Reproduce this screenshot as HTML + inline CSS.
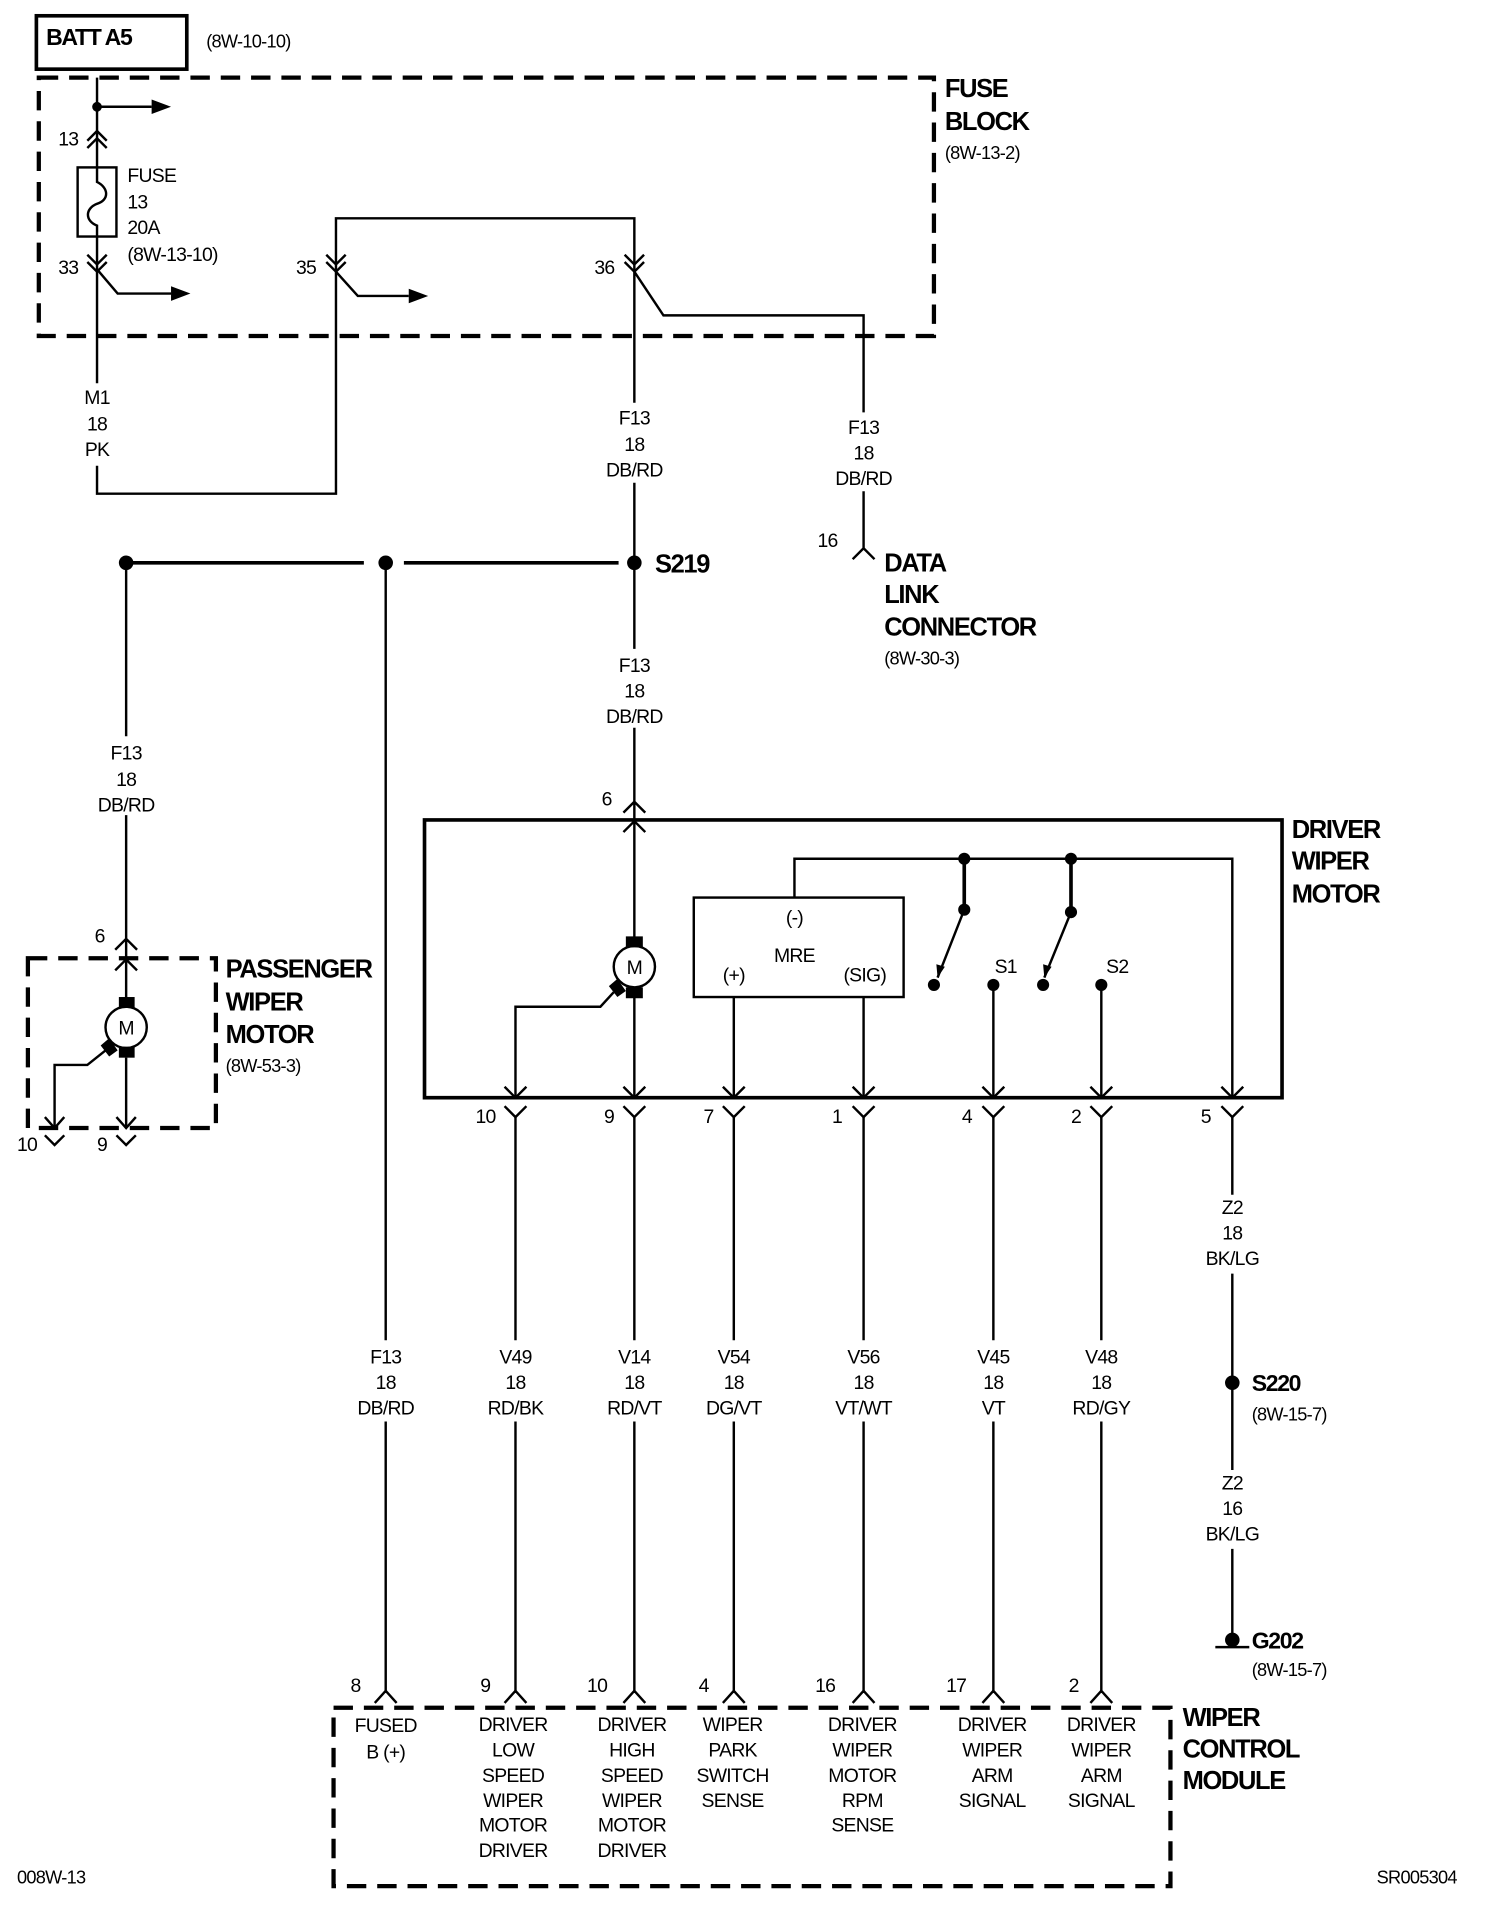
<!DOCTYPE html>
<html><head><meta charset="utf-8"><style>
html,body{margin:0;padding:0;background:#fff;}
svg{display:block;}
text{font-family:"Liberation Sans",sans-serif;fill:#000;}
.l{font-size:16px;text-anchor:middle;letter-spacing:-0.6px;}
.s{font-size:16px;letter-spacing:-0.6px;}
.b{font-size:21px;font-weight:bold;letter-spacing:-1.1px;}
.w{stroke:#000;stroke-width:2;fill:none;}
.t{stroke:#000;stroke-width:3;fill:none;}
.d{stroke:#000;stroke-width:3.5;fill:none;stroke-dasharray:16,9;}
</style></head><body>
<svg width="1504" height="1906" viewBox="0 0 1240 1571.4" xmlns="http://www.w3.org/2000/svg">
<rect x="30" y="13" width="124" height="44" class="t"/>
<text x="38" y="37" class="b" style="font-size:19px">BATT A5</text>
<text x="170" y="39" class="s" style="font-size:15px">(8W-10-10)</text>
<rect x="32" y="64" width="738" height="213" class="d"/>
<text x="779" y="80" class="b">FUSE</text>
<text x="779" y="107" class="b">BLOCK</text>
<text x="779" y="131" class="s" style="font-size:15px">(8W-13-2)</text>
<path class="w" d="M80 64 V138"/>
<circle cx="80" cy="88" r="4"/>
<path class="w" d="M80 88 H125"/><path d="M125 82 L141 88 L125 94Z"/>
<path class="w" d="M72 116 L80 108 L88 116 M72 122 L80 114 L88 122"/>
<text x="48" y="120" class="s">13</text>
<rect x="64" y="138" width="32" height="57" class="w"/>
<path class="w" d="M80 138 V150 C90 155 90 165 80 168 C70 172 70 182 80 186 V195"/>
<text x="105" y="150" class="s">FUSE</text>
<text x="105" y="172" class="s">13</text>
<text x="105" y="193" class="s">20A</text>
<text x="105" y="215" class="s">(8W-13-10)</text>
<path class="w" d="M80 195 V316 M80 384 V407 H277 V180 H523 V224"/>
<path class="w" d="M72 210 L80 218 L88 210 M72 216 L80 224 L88 216"/>
<text x="48" y="226" class="s">33</text>
<path class="w" d="M80 222 L97 242 H141"/><path d="M141 236 L157 242 L141 248Z"/>
<path class="w" d="M269 210 L277 218 L285 210 M269 216 L277 224 L285 216"/>
<text x="244" y="226" class="s">35</text>
<path class="w" d="M277 224 L295 244 H337"/><path d="M337 238 L353 244 L337 250Z"/>
<path class="w" d="M515 210 L523 218 L531 210 M515 216 L523 224 L531 216"/>
<text x="490" y="226" class="s">36</text>
<path class="w" d="M523 224 L547 260 H712 V340 M712 405 V452 M703 461 L712 452 L721 461"/>
<text x="80" y="333" class="l">M1</text><text x="80" y="355" class="l">18</text><text x="80" y="376" class="l">PK</text>
<path class="w" d="M523 224 V332 M523 398 V464"/>
<text x="523" y="350" class="l">F13</text><text x="523" y="372" class="l">18</text><text x="523" y="393" class="l">DB/RD</text>
<text x="712" y="358" class="l">F13</text><text x="712" y="379" class="l">18</text><text x="712" y="400" class="l">DB/RD</text>
<text x="674" y="451" class="s">16</text>
<text x="729" y="471" class="b">DATA</text><text x="729" y="497" class="b">LINK</text><text x="729" y="524" class="b">CONNECTOR</text>
<text x="729" y="548" class="s" style="font-size:15px">(8W-30-3)</text>
<path class="t" d="M104 464 H300 M333 464 H510"/>
<circle cx="104" cy="464" r="6"/><circle cx="318" cy="464" r="6"/><circle cx="523" cy="464" r="6"/>
<text x="540" y="472" class="b">S219</text>
<path class="w" d="M523 464 V535 M523 600 V676 M514 670 L523 661 L532 670 M514 686 L523 677 L532 686"/>
<text x="523" y="554" class="l">F13</text><text x="523" y="575" class="l">18</text><text x="523" y="596" class="l">DB/RD</text>
<text x="496" y="664" class="s">6</text>
<path class="w" d="M104 464 V607 M104 672 V830 M95 783 L104 774 L113 783 M95 800 L104 791 L113 800"/>
<text x="104" y="626" class="l">F13</text><text x="104" y="648" class="l">18</text><text x="104" y="669" class="l">DB/RD</text>
<text x="78" y="777" class="s">6</text>
<rect x="23" y="790" width="155" height="140" class="d"/>
<circle cx="104" cy="847" r="17" class="w"/><text x="104" y="853" class="l">M</text>
<rect x="98" y="822" width="13" height="9"/><rect x="98" y="863" width="13" height="9"/>
<path d="M83 862 L90 856 L97 866 L90 871Z"/>
<path class="w" d="M104 872 V930 M96 921 L104 930 L112 921 M87 866 L72 878 H45 V930 M37 921 L45 930 L53 921"/>
<path class="w" d="M37 936 L45 944 L53 936 M96 936 L104 944 L112 936"/>
<text x="14" y="949" class="s">10</text><text x="80" y="949" class="s">9</text>
<text x="186" y="806" class="b">PASSENGER</text><text x="186" y="833" class="b">WIPER</text><text x="186" y="860" class="b">MOTOR</text>
<text x="186" y="884" class="s" style="font-size:15px">(8W-53-3)</text>
<rect x="350" y="676" width="707" height="229" class="t"/>
<text x="1065" y="691" class="b">DRIVER</text><text x="1065" y="717" class="b">WIPER</text><text x="1065" y="744" class="b">MOTOR</text>
<path class="w" d="M523 676 V780 M523 814 V905"/>
<circle cx="523" cy="797" r="17" class="w" style="fill:#fff"/><text x="523" y="803" class="l">M</text>
<rect x="516" y="772" width="14" height="9"/><rect x="516" y="814" width="14" height="9"/>
<path d="M502 813 L509 807 L516 817 L509 822Z"/>
<path class="w" d="M506 818 L495 830 H425 V905"/>
<rect x="572" y="740" width="173" height="82" class="w"/>
<text x="655" y="762" class="l">(-)</text><text x="655" y="793" class="l">MRE</text>
<text x="605" y="809" class="l">(+)</text><text x="713" y="809" class="l">(SIG)</text>
<path class="w" d="M655 740 V708 H1016 V905"/>
<circle cx="795" cy="708" r="5"/><circle cx="883" cy="708" r="5"/>
<path class="t" d="M795 708 V750 M883 708 V752"/>
<circle cx="795" cy="750" r="5"/><circle cx="883" cy="752" r="5"/>
<path class="w" d="M795 750 L773 806 M883 752 L861 806"/>
<path d="M773 806 L772 795 L779 797Z M861 806 L860 795 L867 797Z"/>
<circle cx="770" cy="812" r="5"/><circle cx="860" cy="812" r="5"/>
<circle cx="819" cy="812" r="5"/><circle cx="908" cy="812" r="5"/>
<text x="820" y="802" class="s">S1</text><text x="912" y="802" class="s">S2</text>
<path class="w" d="M605 822 V905 M712 822 V905 M819 812 V905 M908 812 V905"/>
<path class="w" d="M416 896 L425 905 L434 896 M514 896 L523 905 L532 896 M596 896 L605 905 L614 896 M703 896 L712 905 L721 896 M810 896 L819 905 L828 896 M899 896 L908 905 L917 896 M1007 896 L1016 905 L1025 896"/>
<path class="w" d="M416 912 L425 921 L434 912 M514 912 L523 921 L532 912 M596 912 L605 921 L614 912 M703 912 L712 921 L721 912 M810 912 L819 921 L828 912 M899 912 L908 921 L917 912 M1007 912 L1016 921 L1025 912"/>
<text x="392" y="926" class="s">10</text><text x="498" y="926" class="s">9</text><text x="580" y="926" class="s">7</text>
<text x="686" y="926" class="s">1</text><text x="793" y="926" class="s">4</text><text x="883" y="926" class="s">2</text><text x="990" y="926" class="s">5</text>
<path class="w" d="M318 464 V1105 M318 1172 V1394 M425 921 V1105 M425 1172 V1394 M523 921 V1105 M523 1172 V1394 M605 921 V1105 M605 1172 V1394 M712 921 V1105 M712 1172 V1394 M819 921 V1105 M819 1172 V1394 M908 921 V1105 M908 1172 V1394"/>
<text x="318" y="1124" class="l">F13</text><text x="318" y="1145" class="l">18</text><text x="318" y="1166" class="l">DB/RD</text>
<text x="425" y="1124" class="l">V49</text><text x="425" y="1145" class="l">18</text><text x="425" y="1166" class="l">RD/BK</text>
<text x="523" y="1124" class="l">V14</text><text x="523" y="1145" class="l">18</text><text x="523" y="1166" class="l">RD/VT</text>
<text x="605" y="1124" class="l">V54</text><text x="605" y="1145" class="l">18</text><text x="605" y="1166" class="l">DG/VT</text>
<text x="712" y="1124" class="l">V56</text><text x="712" y="1145" class="l">18</text><text x="712" y="1166" class="l">VT/WT</text>
<text x="819" y="1124" class="l">V45</text><text x="819" y="1145" class="l">18</text><text x="819" y="1166" class="l">VT</text>
<text x="908" y="1124" class="l">V48</text><text x="908" y="1145" class="l">18</text><text x="908" y="1166" class="l">RD/GY</text>
<path class="w" d="M1016 921 V985 M1016 1050 V1212 M1016 1277 V1350"/>
<text x="1016" y="1001" class="l">Z2</text><text x="1016" y="1022" class="l">18</text><text x="1016" y="1043" class="l">BK/LG</text>
<circle cx="1016" cy="1140" r="6"/>
<text x="1032" y="1147" class="b" style="font-size:19px">S220</text>
<text x="1032" y="1171" class="s" style="font-size:15px">(8W-15-7)</text>
<text x="1016" y="1228" class="l">Z2</text><text x="1016" y="1249" class="l">16</text><text x="1016" y="1270" class="l">BK/LG</text>
<circle cx="1016" cy="1352" r="6"/>
<path class="w" d="M1002 1358 H1030"/>
<text x="1032" y="1359" class="b" style="font-size:19px">G202</text>
<text x="1032" y="1382" class="s" style="font-size:15px">(8W-15-7)</text>
<path class="w" d="M309 1404 L318 1394 L327 1404 M416 1404 L425 1394 L434 1404 M514 1404 L523 1394 L532 1404 M596 1404 L605 1394 L614 1404 M703 1404 L712 1394 L721 1404 M810 1404 L819 1394 L828 1404 M899 1404 L908 1394 L917 1404"/>
<text x="289" y="1395" class="s">8</text><text x="396" y="1395" class="s">9</text><text x="484" y="1395" class="s">10</text>
<text x="576" y="1395" class="s">4</text><text x="672" y="1395" class="s">16</text><text x="780" y="1395" class="s">17</text><text x="881" y="1395" class="s">2</text>
<rect x="275" y="1408" width="690" height="147" class="d"/>
<text x="318" y="1428" class="l">FUSED</text><text x="318" y="1450" class="l">B (+)</text>
<text x="423" y="1427" class="l">DRIVER</text><text x="423" y="1448" class="l">LOW</text><text x="423" y="1469" class="l">SPEED</text><text x="423" y="1490" class="l">WIPER</text><text x="423" y="1510" class="l">MOTOR</text><text x="423" y="1531" class="l">DRIVER</text>
<text x="521" y="1427" class="l">DRIVER</text><text x="521" y="1448" class="l">HIGH</text><text x="521" y="1469" class="l">SPEED</text><text x="521" y="1490" class="l">WIPER</text><text x="521" y="1510" class="l">MOTOR</text><text x="521" y="1531" class="l">DRIVER</text>
<text x="604" y="1427" class="l">WIPER</text><text x="604" y="1448" class="l">PARK</text><text x="604" y="1469" class="l">SWITCH</text><text x="604" y="1490" class="l">SENSE</text>
<text x="711" y="1427" class="l">DRIVER</text><text x="711" y="1448" class="l">WIPER</text><text x="711" y="1469" class="l">MOTOR</text><text x="711" y="1490" class="l">RPM</text><text x="711" y="1510" class="l">SENSE</text>
<text x="818" y="1427" class="l">DRIVER</text><text x="818" y="1448" class="l">WIPER</text><text x="818" y="1469" class="l">ARM</text><text x="818" y="1490" class="l">SIGNAL</text>
<text x="908" y="1427" class="l">DRIVER</text><text x="908" y="1448" class="l">WIPER</text><text x="908" y="1469" class="l">ARM</text><text x="908" y="1490" class="l">SIGNAL</text>
<text x="975" y="1423" class="b">WIPER</text><text x="975" y="1449" class="b">CONTROL</text><text x="975" y="1475" class="b">MODULE</text>
<text x="14" y="1553" class="s" style="font-size:15px">008W-13</text>
<text x="1135" y="1553" class="s" style="font-size:15px">SR005304</text>
</svg>
</body></html>
